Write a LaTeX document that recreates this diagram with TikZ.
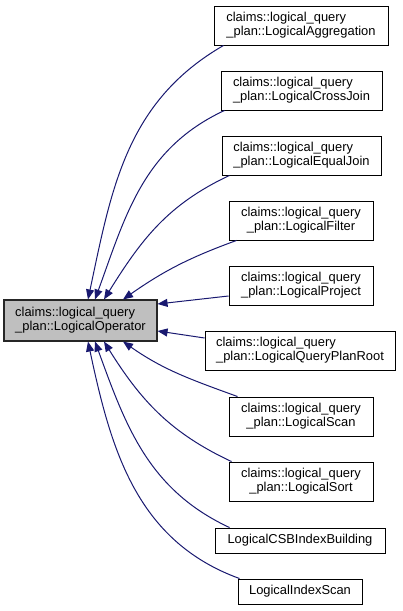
\documentclass[tikz,border=0pt]{standalone}
\usepackage{fontspec}
\setmainfont{Liberation Sans}
\usetikzlibrary{arrows.meta}
\definecolor{edgeblue}{HTML}{191970}
\definecolor{opgray}{HTML}{BFBFBF}
\begin{document}
\begin{tikzpicture}[x=1pt,y=1pt,
	cls/.style={draw=black,line width=.9pt,fill=white,inner sep=0pt,align=center,font=\fontsize{12.9}{14}\selectfont},
	base/.style={cls,fill=opgray,draw=black!85,line width=1.1pt},
	edge/.style={edgeblue,line width=1pt,{Triangle[length=10pt,width=8pt]}-}]
	\useasboundingbox (0,0) rectangle (403,611);
	\node[base,align=left,minimum width=153,minimum height=41] (op) at (80.5,290.5) {claims::logical\_query\\\_plan::LogicalOperator};
	% derived classes, two-line names
	\foreach \n/\x/\y/\w/\al/\t in {agg/301/585.5/174/left/Aggregation,cross/301.5/520.5/161/left/CrossJoin,equal/301.5/455.5/159/left/EqualJoin,filter/301/390.5/144/center/Filter,project/301/325.5/144/center/Project,root/300/260.5/190/left/QueryPlanRoot,scan/301/194.5/144/center/Scan,sort/301/129.5/144/center/Sort}
		\node[cls,align=\al,minimum width=\w,minimum height=39] (\n) at (\x,\y) {claims::logical\_query\\\_plan::Logical\t};
	\node[cls,minimum width=170,minimum height=25] (csb) at (300,70.5) {LogicalCSBIndexBuilding};
	\node[cls,minimum width=124,minimum height=25] (iscan) at (300,19.5) {LogicalIndexScan};
	% inheritance edges
	\foreach \n/\a/\b/\o/\i in {agg/7.5/10/78/210,cross/14.5/4/70/205,equal/23.5/8/58/205,filter/42.5/8/35/200}
		\draw[edge]([xshift=\a]op.north) to[out=\o,in=\i] ([xshift=\b]\n.south west);
	\foreach \n/\a/\b in {project/16.5/-10.5,root/-10.5/12.5}
		\draw[edge]([yshift=\a]op.east) -- ([yshift=\b]\n.west);
	\foreach \n/\a/\b/\o/\i in {scan/42.5/9/-35/160,sort/23.5/3/-58/155,csb/14.5/15/-70/155,iscan/7.5/2/-78/160}
		\draw[edge]([xshift=\a]op.south) to[out=\o,in=\i] ([xshift=\b]\n.north west);
\end{tikzpicture}
\end{document}
